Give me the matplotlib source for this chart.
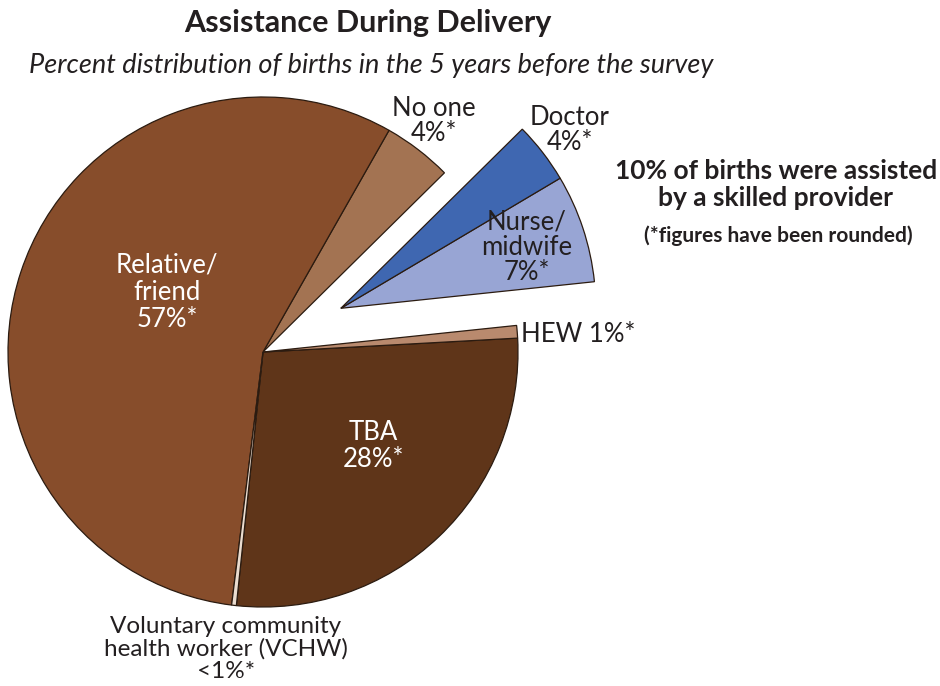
import numpy as np
import matplotlib.pyplot as plt

plt.rcParams['font.family'] = ['Lato', 'DejaVu Sans']

# slices, counter-clockwise starting at the bottom of the TBA slice
labels = ['TBA', 'HEW', 'Nurse/midwife', 'Doctor', 'No one', 'Relative/friend', 'VCHW']
values = [27.7, 0.8, 6.9, 3.9, 4.4, 56.6, 0.3]
colors = ['#5f3519', '#b98a6e', '#98a5d4', '#3f67b1', '#a37352', '#874d2b', '#eadccf']
skilled = ['Nurse/midwife', 'Doctor']

txt = '#231f20'
W, H = 940, 686
cx, cy, R = 263, 352, 255  # pie centre / radius in pixels

fig = plt.figure(figsize=(W / 100, H / 100), dpi=100)
ax = fig.add_axes([0, 0, 1, 1])

wedges, _ = ax.pie(values, colors=colors, startangle=-96, counterclock=True,
                   radius=1, center=(0, 0), frame=True,
                   wedgeprops=dict(edgecolor='#2b1b10', linewidth=0.9))
ax.set_xlim(-cx / R, (W - cx) / R)
ax.set_ylim(-(H - cy) / R, cy / R)
ax.set_aspect('equal')
ax.axis('off')

# pull the skilled-provider slices out together
sk = [wedges[labels.index(s)] for s in skilled]
a0 = min(w.theta1 for w in sk)
a1 = max(w.theta2 for w in sk)
mid = np.deg2rad((a0 + a1) / 2 + 4)
off = 0.35
for w in sk:
    w.set_center((off * np.cos(mid), off * np.sin(mid)))


def px(x, y):
    return (x - cx) / R, (cy - y) / R


fs = 18.5
ls = 1.1
ax.text(*px(167, 292), 'Relative/\nfriend\n57%*', ha='center', va='center',
        fontsize=fs, color='white', linespacing=ls)
ax.text(*px(373, 446), 'TBA\n28%*', ha='center', va='center',
        fontsize=fs, color='white', linespacing=ls)
ax.text(*px(434, 121), 'No one\n4%*', ha='center', va='center',
        fontsize=fs, color=txt, linespacing=1.0)
ax.text(*px(570, 130), 'Doctor\n4%*', ha='center', va='center',
        fontsize=fs, color=txt, linespacing=1.0)
ax.text(*px(527, 247), 'Nurse/\nmidwife\n7%*', ha='center', va='center',
        fontsize=fs, color=txt, linespacing=1.0)
ax.text(*px(521, 334), 'HEW 1%*', ha='left', va='center',
        fontsize=fs, color=txt)
ax.text(*px(226, 649), 'Voluntary community\nhealth worker (VCHW)\n<1%*',
        ha='center', va='center', fontsize=17.5, color=txt, linespacing=1.05)

ax.text(*px(776, 184), '10% of births were assisted\nby a skilled provider',
        ha='center', va='center', fontsize=19, fontweight='bold', color=txt,
        linespacing=1.15)
ax.text(*px(778, 236), '(*figures have been rounded)', ha='center', va='center',
        fontsize=15, fontweight='bold', color=txt)

ax.text(*px(368, 23), 'Assistance During Delivery', ha='center', va='center',
        fontsize=22, fontweight='bold', color=txt)
ax.text(*px(371, 65), 'Percent distribution of births in the 5 years before the survey',
        ha='center', va='center', fontsize=19.5, style='italic', color=txt)

fig.savefig('out.png', dpi=100)
